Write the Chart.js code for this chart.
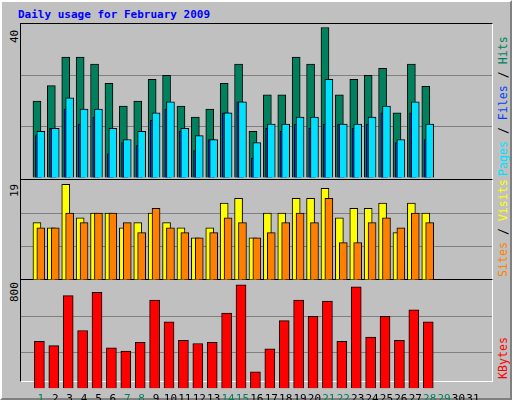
<!DOCTYPE html><html><head><meta charset="utf-8">
<script src="https://cdn.jsdelivr.net/npm/chart.js@4/dist/chart.umd.min.js"></script>
<style>
body{margin:0;background:#fff;overflow:hidden}
#frame{position:absolute;left:0;top:0;width:508px;height:396px;background:#c0c0c0;border-top:2px solid #fff;border-left:2px solid #fff;border-right:2px solid #808080;border-bottom:2px solid #808080}
.t{position:absolute;font-family:"DejaVu Sans Mono",monospace;font-size:11px;white-space:nowrap}
.rot{transform-origin:left top;transform:rotate(-90deg)}
canvas{position:absolute}
.box{position:absolute;border:1px solid #000;box-sizing:border-box}
</style></head><body>
<div id="frame"></div>
<div class="t" style="left:18px;top:8px;color:#0000ff;font-weight:bold">Daily usage for February 2009</div>
<div class="box" style="left:20px;top:23px;width:473px;height:157px;border-right-color:#fff;border-bottom-color:#fff"></div>
<div class="box" style="left:20px;top:179px;width:473px;height:101px;border-right-color:#fff;border-bottom-color:#fff"></div>
<div class="box" style="left:20px;top:279px;width:473px;height:103px;border-right-color:#fff;border-bottom-color:#fff"></div>
<div class="t rot" style="left:8px;top:43px">40</div>
<div class="t rot" style="left:8px;top:197px">19</div>
<div class="t rot" style="left:8px;top:302px">800</div>
<div class="t rot" style="left:496px;top:176px;font-size:11.6px"><span style="color:#00e0ff">Pages</span> / <span style="color:#0040ff">Files</span> / <span style="color:#00805c">Hits</span></div>
<div class="t rot" style="left:496px;top:277px;font-size:11.6px"><span style="color:#ff8000">Sites</span> / <span style="color:#ffff00">Visits</span></div>
<div class="t rot" style="left:496px;top:379px;font-size:11.6px"><span style="color:#ff0000">KBytes</span></div>
<canvas id="c1" style="left:21px;top:24px;width:471px;height:154px"></canvas>
<canvas id="c2" style="left:21px;top:180px;width:471px;height:100px"></canvas>
<canvas id="c3" style="left:21px;top:280px;width:471px;height:122px"></canvas>
<script>
const days=[];for(let d=1;d<=31;d++)days.push(d);
const weekendDays=[1,7,8,14,15,21,22,28,29];
const hits=[20,24,31.4,31.4,29.6,24.6,18.7,20,25.6,26.7,18.7,15.8,17.9,24.6,29.6,12.1,21.6,21.6,31.4,29.6,39.1,21.6,25.6,26.7,28.5,16.9,29.6,23.8];
const files=[11,12.9,17.9,14,15.8,6.3,9.2,8.4,15,17.9,12.1,7.1,10,16.9,19.8,5.2,12.9,12.1,14,12.9,14,14,12.9,14,16.9,9.2,16.9,10];
const pages=[12.1,12.9,20.8,17.9,17.9,12.9,10,12.1,16.9,19.8,12.9,11,10,16.9,19.8,9.2,14,14,15.8,15.8,25.6,14,14,15.8,18.7,10,19.8,14];
const visits=[10.9,9.9,18.2,11.8,12.7,12.7,9.9,10.9,12.7,10.9,9.9,8,9.9,14.6,15.5,8,12.7,12.7,15.5,15.5,17.4,11.8,13.6,13.6,14.6,9,14.6,12.7];
const sites=[9.9,9.9,12.7,10.9,12.7,12.7,10.9,9,13.6,9.9,9,8,9,11.8,10.9,8,9,10.9,12.7,10.9,15.5,7.1,7.1,10.9,11.8,9.9,12.7,10.9];
const kbytes=[349,317,685,429,709,301,277,341,653,493,357,333,341,557,765,125,293,501,653,533,645,349,749,381,533,357,581,493];
const maxes=[40,19,800];
function pts(arr,off){return arr.map((v,i)=>({x:days[i]+off,y:v}));}
function ds(arr,off,color,w,order){return {data:pts(arr,off),backgroundColor:color,borderColor:'#000',borderWidth:1,barThickness:w,grouped:false,order:order};}
function mk(id,datasets,max,showX){
  new Chart(document.getElementById(id),{type:'bar',data:{datasets},
  options:{responsive:false,animation:false,devicePixelRatio:1,layout:{padding:0},
   plugins:{legend:{display:false},tooltip:{enabled:false}},
   scales:{
    x:{type:'linear',min:0.15,max:31.8,display:showX,grid:{display:false},border:{display:false},
       afterBuildTicks:a=>{a.ticks=days.map(v=>({value:v}));},
       ticks:{autoSkip:false,maxRotation:0,padding:-4,font:{family:'DejaVu Sans Mono',size:11},
         color:c=>weekendDays.includes(c.tick.value)?'#00805c':'#000',callback:v=>String(v)}},
    y:{min:0,max:max,display:true,border:{display:false},
       afterBuildTicks:a=>{a.ticks=[0,1,2,3].map(k=>({value:max*k/3}));},
       ticks:{display:false},grid:{color:c=>(c.tick.value>0&&c.tick.value<max)?'#808080':'rgba(0,0,0,0)',lineWidth:1,drawTicks:false}}
   }}});
}
function sizeCanvas(id){const c=document.getElementById(id);c.width=parseInt(c.style.width);c.height=parseInt(c.style.height);}
['c1','c2','c3'].forEach(sizeCanvas);
mk('c1',[ds(hits,-0.27,'#00805c',8,3),ds(files,-0.15,'#0040ff',7,2),ds(pages,0,'#00e0ff',8,1)],maxes[0],false);
mk('c2',[ds(visits,-0.27,'#ffff00',8,2),ds(sites,0,'#ff8000',8,1)],maxes[1],false);
mk('c3',[ds(kbytes,-0.1,'#ff0000',10,1)],maxes[2],true);
</script></body></html>
